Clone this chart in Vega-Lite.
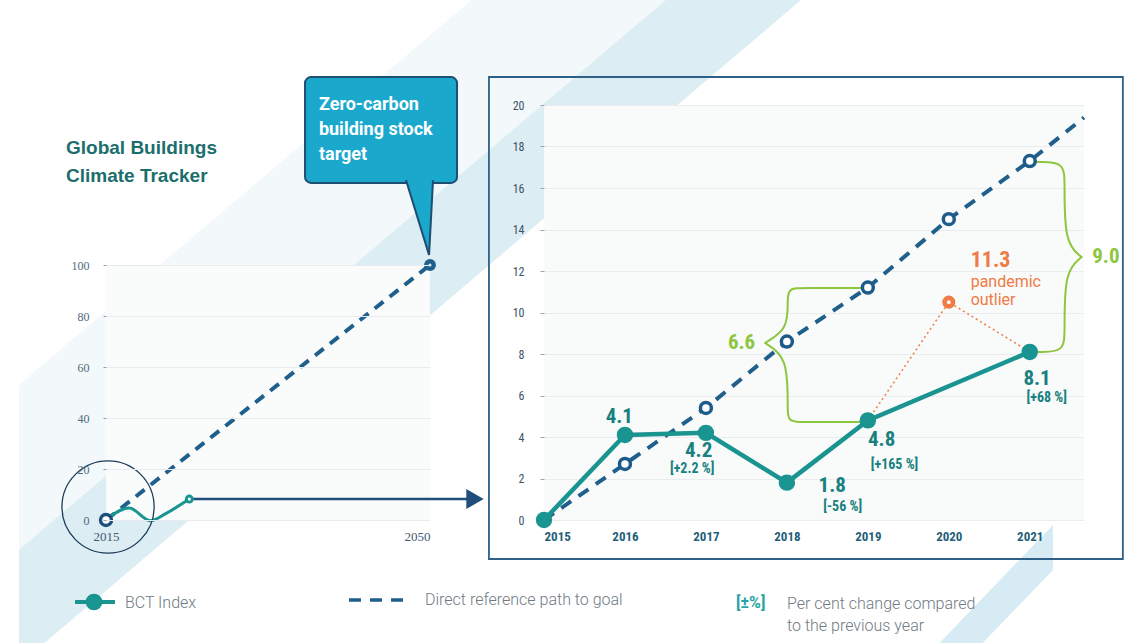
{
  "$schema": "https://vega.github.io/schema/vega-lite/v6.json",
  "autosize": {"type": "pad"},
  "padding": 0,
  "background": "#ffffff",
  "bounds": "flush",
  "spacing": 114,
  "config": {"view": {"stroke": null}, "font": "Roboto", "axis": {"title": null}},
  "hconcat": [
    {
      "width": 324,
      "height": 415,
      "encoding": {
        "x": {"field": "year", "type": "quantitative", "scale": {"domain": [2015, 2050], "nice": false, "zero": false},
          "axis": {"values": [2015, 2050], "format": "d", "grid": false, "domain": false, "ticks": false, "tickSize": 0, "labelPadding": 10, "labelFont": "Liberation Serif", "labelFontSize": 13, "labelColor": "#3f5a70", "labelAlign": {"condition": {"test": "datum.value == 2050", "value": "right"}, "value": "center"}, "zindex": 1}},
        "y": {"field": "value", "type": "quantitative", "scale": {"domain": [0, 162.75], "nice": false, "zero": false},
          "axis": {"values": [0, 20, 40, 60, 80, 100], "grid": true, "gridColor": "#e8ecef", "domain": false, "tickSize": 3, "tickColor": "#9aa3ab", "labelPadding": 14, "labelFont": "Liberation Serif", "labelFontSize": 12, "labelColor": "#4f6a80", "zindex": 1}}
      },
      "layer": [
        {"data": {"values": [{"year": 2003.657, "year2": 2125.185, "value": 203.92, "value2": -48.235}]},
         "mark": {"type": "rect", "color": "#ffffff"}, "encoding": {"x2": {"field": "year2"}, "y2": {"field": "value2"}}},
        {"data": {"values": [{"year": 2005.602, "value": 53.06, "value2": -11.647}, {"year": 2054.494, "value": 203.92, "value2": 139.22}, {"year": 2075.462, "value": 203.92, "value2": 203.92}]},
         "mark": {"type": "area", "color": "#f3f8fa"}, "encoding": {"y2": {"field": "value2"}}},
        {"data": {"values": [{"year": 2005.602, "value": -11.647, "value2": -48.235}, {"year": 2008.356, "value": -3.137, "value2": -48.235}, {"year": 2075.462, "value": 203.92, "value2": 158.82}, {"year": 2090.077, "value": 203.92, "value2": 203.92}]},
         "mark": {"type": "area", "color": "#dcedf4"}, "encoding": {"y2": {"field": "value2"}}},
        {"data": {"values": [{"year": 2105.04, "value": -48.235, "value2": -48.235}, {"year": 2109.705, "value": -30.59, "value2": -48.235}, {"year": 2117.3, "value": -1.96, "value2": -19.61}]},
         "mark": {"type": "area", "color": "#d6ebf3"}, "encoding": {"y2": {"field": "value2"}}},
        {"data": {"values": [{"year": 2015, "year2": 2050, "value": 0, "value2": 100}]},
         "mark": {"type": "rect", "color": "#fafbfb"}, "encoding": {"x2": {"field": "year2"}, "y2": {"field": "value2"}}},
        {"data": {"values": [{"year": 2015, "value": 0}, {"year": 2050, "value": 100}]},
         "mark": {"type": "line", "color": "#1f5f8b", "strokeWidth": 4, "strokeDash": [11, 8]}, "encoding": {}},
        {"data": {"values": [{"year": 2015.2, "value": 0.8}, {"year": 2017.5, "value": 4.7}, {"year": 2019.8, "value": -0.3}, {"year": 2021.5, "value": 2.6}, {"year": 2024, "value": 8.2}]},
         "mark": {"type": "line", "color": "#1a9490", "strokeWidth": 3, "interpolate": "monotone"}, "encoding": {}},
        {"data": {"values": [{"year": 2024, "value": 8.2}, {"year": 2054, "value": 8.2}]},
         "mark": {"type": "line", "color": "#1e4e79", "strokeWidth": 2.5}, "encoding": {}},
        {"data": {"values": [{"year": 2054.86, "value": 8.2}]},
         "mark": {"type": "point", "shape": "triangle-right", "filled": true, "color": "#1e4e79", "size": 400, "opacity": 1}},
        {"data": {"values": [{"year": 2024, "value": 8.2}]},
         "mark": {"type": "point", "filled": true, "color": "#1a9490", "size": 80, "opacity": 1}},
        {"data": {"values": [{"year": 2024, "value": 8.2}]},
         "mark": {"type": "point", "filled": true, "color": "#ffffff", "size": 10, "opacity": 1}},
        {"data": {"values": [{"year": 2015, "value": 0}]},
         "mark": {"type": "point", "filled": true, "fill": "#ffffff", "stroke": "#1d4f7c", "strokeWidth": 3.5, "size": 120, "opacity": 1}},
        {"data": {"values": [{"year": 2050, "value": 100}]},
         "mark": {"type": "point", "filled": true, "color": "#1f5f8b", "size": 140, "opacity": 1}},
        {"data": {"values": [{"year": 2050, "value": 100}]},
         "mark": {"type": "point", "filled": true, "color": "#cfe3ef", "size": 10, "opacity": 1}},
        {"data": {"values": [{"year": 2015.22, "value": 5.1}]},
         "mark": {"type": "point", "filled": false, "stroke": "#1d3b57", "strokeWidth": 1.3, "size": 8500, "opacity": 1}},
        {"data": {"values": [{"year": 2036.5, "year2": 2052.92, "value": 173.7, "value2": 132.2}]},
         "mark": {"type": "rect", "fill": "#1ba8cd", "stroke": "#1e4e72", "strokeWidth": 2, "cornerRadius": 6}, "encoding": {"x2": {"field": "year2"}, "y2": {"field": "value2"}}},
        {"data": {"values": [{"year": 2048.81, "value": 118.04}]},
         "mark": {"type": "point", "shape": "M -0.36 -1.08 L 0.28 1 L 0.39 -1.08", "filled": true, "fill": "#1ba8cd", "stroke": "#1e4e72", "strokeWidth": 2, "size": 5184, "opacity": 1}},
        {"data": {"values": [{"year": 2038.0, "value": 166.3, "label": "Zero-carbon\nbuilding stock\ntarget"}]},
         "mark": {"type": "text", "align": "left", "baseline": "top", "lineBreak": "\n", "lineHeight": 25, "fontSize": 18, "fontWeight": "bold", "font": "Roboto", "color": "#ffffff"},
         "encoding": {"text": {"field": "label"}}},
        {"data": {"values": [{"year": 2010.68, "value": 149.4, "label": "Global Buildings\nClimate Tracker"}]},
         "mark": {"type": "text", "align": "left", "baseline": "top", "lineBreak": "\n", "lineHeight": 28, "fontSize": 19, "fontWeight": "bold", "font": "Liberation Sans", "color": "#1b6e6c"},
         "encoding": {"text": {"field": "label"}}},
        {"data": {"values": [{"year": 2011.65, "value": -32.16}, {"year": 2015.97, "value": -32.16}]},
         "mark": {"type": "line", "color": "#1a9490", "strokeWidth": 4}, "encoding": {}},
        {"data": {"values": [{"year": 2013.7, "value": -32.16}]},
         "mark": {"type": "point", "filled": true, "color": "#1a9490", "size": 280, "opacity": 1}},
        {"data": {"values": [{"year": 2041.25, "value": -31.37}, {"year": 2047.95, "value": -31.37}]},
         "mark": {"type": "line", "color": "#1f5f8b", "strokeWidth": 3.5, "strokeDash": [12, 9]}, "encoding": {}},
        {"data": {"values": [{"year": 2017.05, "value": -32.5, "label": "BCT Index"}, {"year": 2049.46, "value": -31.4, "label": "Direct reference path to goal"}, {"year": 2088.57, "value": -32.9, "label": "Per cent change compared"}, {"year": 2088.57, "value": -41.6, "label": "to the previous year"}]},
         "mark": {"type": "text", "align": "left", "baseline": "middle", "fontSize": 16, "fontWeight": 300, "font": "Roboto", "color": "#6f7a83"},
         "encoding": {"text": {"field": "label"}}},
        {"data": {"values": [{"year": 2083.06, "value": -32.5, "label": "[±%]"}]},
         "mark": {"type": "text", "align": "left", "baseline": "middle", "fontSize": 16, "fontWeight": "bold", "font": "Roboto", "color": "#27a3a3"},
         "encoding": {"text": {"field": "label"}}}
      ]
    },
    {
      "width": 540,
      "height": 415,
      "view": {"fill": "#f9fafa", "stroke": null},
      "encoding": {
        "x": {"field": "year", "type": "quantitative", "scale": {"domain": [2015, 2021.67], "nice": false, "zero": false},
          "axis": {"values": [2015, 2016, 2017, 2018, 2019, 2020, 2021], "format": "d", "grid": false, "domain": false, "ticks": false, "tickSize": 0, "labelPadding": 10, "labelFont": "Liberation Sans Narrow, Roboto Condensed, Roboto", "labelFontWeight": "bold", "labelFontSize": 13, "labelColor": "#1f5f7a"}},
        "y": {"field": "value", "type": "quantitative", "scale": {"domain": [0, 20], "nice": false, "zero": false},
          "axis": {"values": [0, 2, 4, 6, 8, 10, 12, 14, 16, 18, 20], "grid": true, "gridColor": "#eaedf0", "domain": false, "tickSize": 4, "tickColor": "#9aa5ae", "labelPadding": 16, "labelFont": "Liberation Sans Narrow, Roboto Condensed, Roboto", "labelFontSize": 12, "labelColor": "#3b5266"}}
      },
      "layer": [
        {"data": {"values": [{"year": 2014.32, "year2": 2022.15, "value": 21.35, "value2": -1.88}]},
         "mark": {"type": "rect", "fillOpacity": 0, "fill": "#ffffff", "stroke": "#2d6087", "strokeWidth": 1.8}, "encoding": {"x2": {"field": "year2"}, "y2": {"field": "value2"}}},
        {"data": {"values": [
          {"o": 1, "year": 2019.0, "value": 11.18}, {"o": 2, "year": 2018.2, "value": 11.18}, {"o": 3, "year": 2018.01, "value": 11.18}, {"o": 4, "year": 2018.01, "value": 10.46},
          {"o": 5, "year": 2018.01, "value": 9.2}, {"o": 6, "year": 2017.73, "value": 8.53}, {"o": 7, "year": 2017.73, "value": 8.53}, {"o": 8, "year": 2017.73, "value": 8.53},
          {"o": 9, "year": 2018.01, "value": 7.86}, {"o": 10, "year": 2018.01, "value": 5.44}, {"o": 11, "year": 2018.01, "value": 4.72}, {"o": 12, "year": 2018.2, "value": 4.72}, {"o": 13, "year": 2019.0, "value": 4.72}]},
         "mark": {"type": "line", "color": "#8dc63f", "strokeWidth": 2, "interpolate": "basis"}, "encoding": {"order": {"field": "o", "type": "quantitative"}}},
        {"data": {"values": [
          {"o": 1, "year": 2021.0, "value": 17.25}, {"o": 2, "year": 2021.13, "value": 17.25}, {"o": 3, "year": 2021.43, "value": 17.25}, {"o": 4, "year": 2021.43, "value": 16.15},
          {"o": 5, "year": 2021.43, "value": 13.35}, {"o": 6, "year": 2021.64, "value": 12.67}, {"o": 7, "year": 2021.64, "value": 12.67}, {"o": 8, "year": 2021.64, "value": 12.67},
          {"o": 9, "year": 2021.43, "value": 11.99}, {"o": 10, "year": 2021.43, "value": 9.2}, {"o": 11, "year": 2021.43, "value": 8.1}, {"o": 12, "year": 2021.13, "value": 8.1}, {"o": 13, "year": 2021.0, "value": 8.1}]},
         "mark": {"type": "line", "color": "#8dc63f", "strokeWidth": 2, "interpolate": "basis"}, "encoding": {"order": {"field": "o", "type": "quantitative"}}},
        {"data": {"values": [{"year": 2015, "value": 0}, {"year": 2016, "value": 2.7}, {"year": 2017, "value": 5.4}, {"year": 2018, "value": 8.6}, {"year": 2019, "value": 11.2}, {"year": 2020, "value": 14.5}, {"year": 2021, "value": 17.3}, {"year": 2021.67, "value": 19.4}]},
         "mark": {"type": "line", "color": "#1f5f8b", "strokeWidth": 4, "strokeDash": [12, 9]}, "encoding": {}},
        {"data": {"values": [{"year": 2019, "value": 4.8}, {"year": 2020, "value": 10.5}, {"year": 2021, "value": 8.1}]},
         "mark": {"type": "line", "color": "#f08050", "strokeWidth": 1.6, "strokeDash": [2, 3]}, "encoding": {}},
        {"data": {"values": [{"year": 2015, "value": 0}, {"year": 2016, "value": 4.1}, {"year": 2017, "value": 4.2}, {"year": 2018, "value": 1.8}, {"year": 2019, "value": 4.8}, {"year": 2021, "value": 8.1}]},
         "layer": [
           {"mark": {"type": "line", "color": "#1a9490", "strokeWidth": 4.5}, "encoding": {}},
           {"mark": {"type": "point", "filled": true, "color": "#1a9490", "size": 270, "opacity": 1}}
         ]},
        {"data": {"values": [{"year": 2016, "value": 2.7}, {"year": 2017, "value": 5.4}, {"year": 2018, "value": 8.6}, {"year": 2019, "value": 11.2}, {"year": 2020, "value": 14.5}, {"year": 2021, "value": 17.3}]},
         "mark": {"type": "point", "filled": true, "fill": "#ffffff", "stroke": "#1d5c8a", "strokeWidth": 3.5, "size": 120, "opacity": 1}},
        {"data": {"values": [{"year": 2020, "value": 10.5}]},
         "layer": [
           {"mark": {"type": "point", "filled": true, "color": "#ef7b45", "size": 170, "opacity": 1}},
           {"mark": {"type": "point", "filled": true, "color": "#ffffff", "size": 14, "opacity": 1}}
         ]},
        {"data": {"values": [{"year": 2015.93, "value": 4.96, "label": "4.1"}, {"year": 2016.91, "value": 3.33, "label": "4.2"}, {"year": 2018.56, "value": 1.64, "label": "1.8"}, {"year": 2019.17, "value": 3.86, "label": "4.8"}, {"year": 2021.09, "value": 6.8, "label": "8.1"}]},
         "mark": {"type": "text", "align": "center", "baseline": "middle", "fontSize": 21, "fontWeight": "bold", "font": "Liberation Sans Narrow, Roboto Condensed, Roboto", "color": "#17817f"},
         "encoding": {"text": {"field": "label"}}},
        {"data": {"values": [{"year": 2016.83, "value": 2.46, "label": "[+2.2 %]"}, {"year": 2018.69, "value": 0.63, "label": "[-56 %]"}, {"year": 2019.33, "value": 2.65, "label": "[+165 %]"}, {"year": 2021.21, "value": 5.88, "label": "[+68 %]"}]},
         "mark": {"type": "text", "align": "center", "baseline": "middle", "fontSize": 14, "fontWeight": "bold", "font": "Liberation Sans Narrow, Roboto Condensed, Roboto", "color": "#17817f"},
         "encoding": {"text": {"field": "label"}}},
        {"data": {"values": [{"year": 2017.44, "value": 8.53, "label": "6.6"}, {"year": 2021.94, "value": 12.67, "label": "9.0"}]},
         "mark": {"type": "text", "align": "center", "baseline": "middle", "fontSize": 21, "fontWeight": "bold", "font": "Liberation Sans Narrow, Roboto Condensed, Roboto", "color": "#8dc63f"},
         "encoding": {"text": {"field": "label"}}},
        {"data": {"values": [{"year": 2020.27, "value": 12.53, "label": "11.3"}]},
         "mark": {"type": "text", "align": "left", "baseline": "middle", "fontSize": 22, "fontWeight": "bold", "font": "Liberation Sans Narrow, Roboto Condensed, Roboto", "color": "#ef7b45"},
         "encoding": {"text": {"field": "label"}}},
        {"data": {"values": [{"year": 2020.27, "value": 11.47, "label": "pandemic"}, {"year": 2020.27, "value": 10.6, "label": "outlier"}]},
         "mark": {"type": "text", "align": "left", "baseline": "middle", "fontSize": 16, "font": "Roboto", "color": "#ef7b45"},
         "encoding": {"text": {"field": "label"}}}
      ]
    }
  ]
}
